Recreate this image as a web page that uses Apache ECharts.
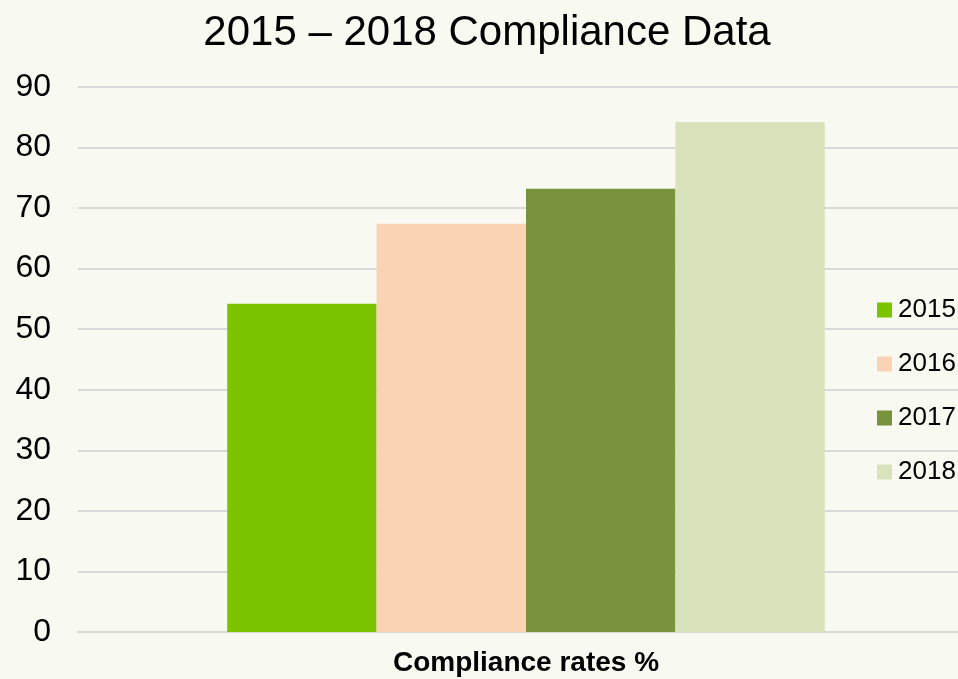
<!DOCTYPE html>
<html><head><meta charset="utf-8">
<script src="https://cdn.jsdelivr.net/npm/echarts@6/dist/echarts.min.js"></script>
<style>html,body{margin:0;padding:0;background:#F8FAF1;overflow:hidden;}#c{width:974px;height:679px;}</style>
</head><body><div id="c"></div>
<script>
const categories = ['Compliance rates %'];
const seriesNames = ['2015', '2016', '2017', '2018'];
const values2015 = [54.2];
const values2016 = [67.4];
const values2017 = [73.2];
const values2018 = [84.2];
const colors = ['#7DC400', '#FAD3B5', '#78933C', '#D8E3BC'];
const allValues = [values2015, values2016, values2017, values2018];

const chart = echarts.init(document.getElementById('c'), null, {renderer: 'canvas'});
chart.setOption({
  backgroundColor: '#F8FAF1',
  animation: false,
  textStyle: {fontFamily: 'Liberation Sans, Arial, sans-serif'},
  title: {
    text: '2015 – 2018 Compliance Data',
    left: 482, top: 7, textAlign: 'center',
    textStyle: {fontSize: 42, fontWeight: 'normal', color: '#000', fontFamily: 'Liberation Sans'}
  },
  legend: {
    orient: 'vertical', left: 877, top: 297, padding: 0,
    itemWidth: 15, itemHeight: 15, itemGap: 28,
    icon: 'rect',
    data: seriesNames,
    textStyle: {fontSize: 26, color: '#000', fontFamily: 'Liberation Sans', padding: [0,0,0,1]}
  },
  grid: {left: 78, top: 87, right: 0, height: 545, containLabel: false},
  xAxis: {
    type: 'category', data: categories,
    axisLine: {show: true, lineStyle: {color: '#D9D9D9', width: 2}},
    axisTick: {show: false},
    axisLabel: {fontSize: 28, fontWeight: 'bold', color: '#000', margin: 17, fontFamily: 'Liberation Sans'}
  },
  yAxis: {
    type: 'value', min: 0, max: 90, interval: 10,
    axisLine: {show: false}, axisTick: {show: false},
    splitLine: {lineStyle: {color: '#D9D9D9', width: 2}},
    axisLabel: {fontSize: 32, color: '#000', margin: 27, fontFamily: 'Liberation Sans'}
  },
  series: seriesNames.map((n, i) => ({
    name: n, type: 'bar', data: allValues[i],
    itemStyle: {color: colors[i]},
    barGap: '0%', barCategoryGap: '33.3%'
  }))
});
</script></body></html>
